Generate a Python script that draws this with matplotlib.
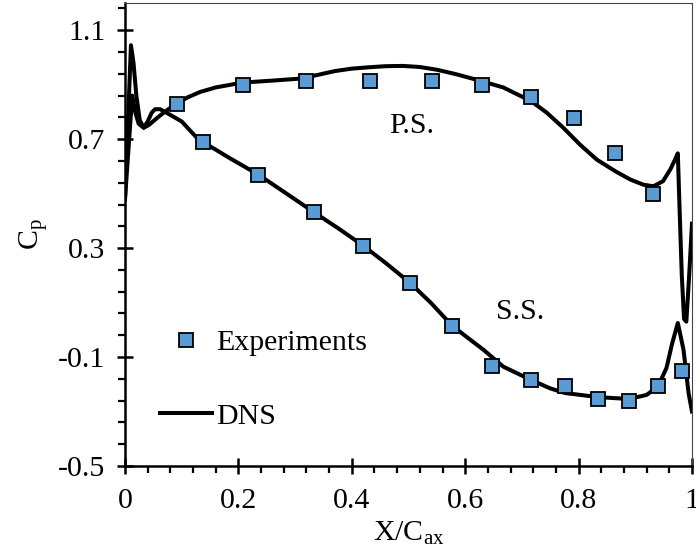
import matplotlib
matplotlib.use("Agg")
import matplotlib.pyplot as plt
from matplotlib.ticker import FixedLocator
import numpy as np

plt.rcParams['font.family'] = ['Liberation Serif', 'DejaVu Serif']
plt.rcParams['mathtext.default'] = 'regular'
plt.rcParams['axes.unicode_minus'] = False

# Experimental data
exp_x = [0.091, 0.138, 0.208, 0.235, 0.319, 0.333, 0.420, 0.432, 0.503, 0.541,
         0.577, 0.629, 0.647, 0.716, 0.716, 0.776, 0.792, 0.834, 0.865, 0.889,
         0.932, 0.940, 0.983]
exp_y = [0.828, 0.689, 0.899, 0.570, 0.913, 0.432, 0.309, 0.913, 0.172, 0.913,
         0.015, 0.898, -0.132, 0.855, -0.184, -0.208, 0.776, -0.254, 0.650, -0.260,
         0.500, -0.208, -0.150]

# DNS pressure side
ps_x = [0.0, 0.0127, 0.018, 0.024, 0.033, 0.042, 0.055, 0.068, 0.080, 0.091,
        0.110, 0.132, 0.160, 0.208, 0.260, 0.306, 0.340, 0.370, 0.400, 0.430,
        0.460, 0.490, 0.520, 0.550, 0.585, 0.629, 0.667, 0.716, 0.744, 0.773,
        0.802, 0.832, 0.865, 0.891, 0.914, 0.932, 0.949, 0.962, 0.970, 0.975,
        0.978, 0.982, 0.986, 0.990, 0.995, 1.0]
ps_y = [0.48, 0.86, 0.80, 0.757, 0.742, 0.752, 0.775, 0.797, 0.815, 0.830,
        0.853, 0.873, 0.890, 0.908, 0.915, 0.922, 0.936, 0.950, 0.959, 0.964,
        0.968, 0.969, 0.965, 0.955, 0.938, 0.913, 0.890, 0.840, 0.797, 0.742,
        0.681, 0.625, 0.582, 0.552, 0.533, 0.527, 0.546, 0.590, 0.625, 0.648,
        0.45, 0.20, 0.04, 0.03, 0.20, 0.39]

# DNS suction side
ss_x = [0.0, 0.0105, 0.015, 0.020, 0.026, 0.033, 0.040, 0.047, 0.053, 0.062,
        0.075, 0.100, 0.129, 0.138, 0.185, 0.235, 0.285, 0.333, 0.378, 0.420,
        0.460, 0.503, 0.540, 0.577, 0.605, 0.632, 0.667, 0.716, 0.750, 0.776,
        0.834, 0.889, 0.920, 0.940, 0.955, 0.965, 0.975, 0.985, 0.994, 1.0]
ss_y = [0.48, 1.045, 0.98, 0.86, 0.77, 0.742, 0.765, 0.797, 0.810, 0.810,
        0.795, 0.765, 0.700, 0.689, 0.630, 0.570, 0.500, 0.432, 0.370, 0.309,
        0.245, 0.172, 0.098, 0.015, -0.030, -0.073, -0.135, -0.184, -0.215, -0.232,
        -0.247, -0.254, -0.239, -0.208, -0.140, -0.050, 0.025, -0.073, -0.233, -0.300]

xticks = [0, 0.2, 0.4, 0.6, 0.8, 1.0]
xtick_labels = ['0', '0.2', '0.4', '0.6', '0.8', '1']
yticks = [-0.5, -0.1, 0.3, 0.7, 1.1]
ytick_labels = ['-0.5', '-0.1', '0.3', '0.7', '1.1']

FS = 21.5

fig = plt.figure(figsize=(6.96, 5.52), dpi=100)
ax = fig.add_axes([125/696, 86/552, 567/696, 463/552])

ax.plot(ps_x, ps_y, color='black', lw=2.9, label='DNS', zorder=2,
        solid_joinstyle='round')
ax.plot(ss_x, ss_y, color='black', lw=2.9, zorder=2, solid_joinstyle='round')
ax.plot(exp_x, exp_y, linestyle='none', marker='s', markersize=10,
        markerfacecolor='#5B9BD5', markeredgecolor='black', markeredgewidth=1.3,
        label='Experiments', zorder=3)

ax.set_xlim(0, 1.0)
ax.set_ylim(-0.5, 1.2)

ax.xaxis.set_major_locator(FixedLocator(xticks))
ax.set_xticklabels(xtick_labels)
ax.yaxis.set_major_locator(FixedLocator(yticks))
ax.set_yticklabels(ytick_labels)
ax.xaxis.set_minor_locator(FixedLocator(np.arange(0, 1.001, 0.04)))
ax.yaxis.set_minor_locator(FixedLocator(np.arange(-0.5, 1.201, 0.08)))

ax.tick_params(which='major', direction='inout', length=12, width=1.8,
               labelsize=FS)
ax.tick_params(which='minor', direction='out', length=5, width=1.6)
ax.tick_params(axis='x', which='major', pad=10)
ax.tick_params(axis='y', which='major', pad=8)

for s in ['left', 'bottom']:
    ax.spines[s].set_linewidth(1.8)
for s in ['top', 'right']:
    ax.spines[s].set_linewidth(0.8)
    ax.spines[s].set_color('#444444')

ax.set_xlabel('X/C$_{ax}$', fontsize=FS, labelpad=4)
ax.set_ylabel('C$_p$', fontsize=FS, labelpad=6)

ax.text(0.506, 0.747, 'P.S.', fontsize=FS, ha='center', va='center')
ax.text(0.697, 0.066, 'S.S.', fontsize=FS, ha='center', va='center')

handles, labels = ax.get_legend_handles_labels()
order = [labels.index('Experiments'), labels.index('DNS')]
leg = ax.legend([handles[i] for i in order], [labels[i] for i in order],
                loc='upper left', bbox_to_anchor=(0.062, 0.295), frameon=False,
                fontsize=FS, handlelength=1.75, handletextpad=0.12,
                labelspacing=1.55, borderpad=0, borderaxespad=0, numpoints=1)

fig.savefig('out.png', dpi=100)
